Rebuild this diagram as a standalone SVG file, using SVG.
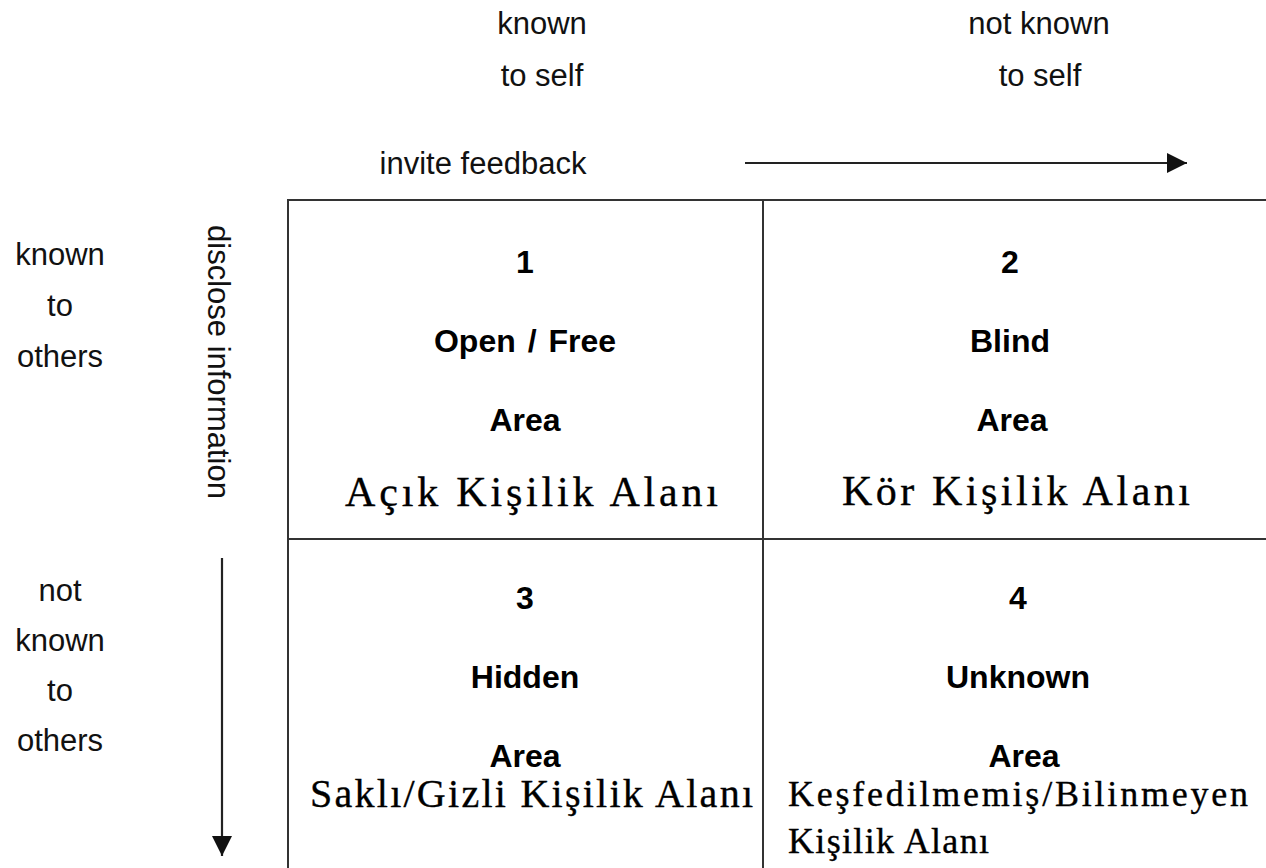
<svg xmlns="http://www.w3.org/2000/svg" width="1266" height="868" viewBox="0 0 1266 868">
<defs>
<style>
.sans{font-family:"Liberation Sans",Arial,sans-serif;font-size:31px;fill:#111;}
.b{font-family:"Liberation Sans",Arial,sans-serif;font-size:32px;font-weight:bold;fill:#000;text-anchor:middle;}
.serif{font-family:"Liberation Serif","Times New Roman",serif;font-size:42px;fill:#000;stroke:#000;stroke-width:0.35;}
.serif3{font-family:"Liberation Serif","Times New Roman",serif;font-size:40px;fill:#000;stroke:#000;stroke-width:0.35;}
.serif2{font-family:"Liberation Serif","Times New Roman",serif;font-size:36px;fill:#000;stroke:#000;stroke-width:0.35;}
.mid{text-anchor:middle;}
.cell{fill:#fff;stroke:#333;stroke-width:2;}
.conn{stroke:#222;stroke-width:2.2;fill:none;}
</style>
<marker id="ah" viewBox="0 0 20 20" markerWidth="20" markerHeight="20" markerUnits="userSpaceOnUse" refX="20" refY="10" orient="auto">
<path d="M0,0 L20,10 L0,20 z" fill="#111"/>
</marker>
</defs>
<rect width="1266" height="868" fill="#fff"/>

<g id="top-labels">
<text class="sans mid" x="542" y="34">known</text>
<text class="sans mid" x="542" y="86">to self</text>
<text class="sans mid" x="1039" y="34">not known</text>
<text class="sans mid" x="1040" y="86">to self</text>
<text class="sans mid" x="483" y="174">invite feedback</text>
</g>

<g id="left-labels">
<text class="sans mid" x="60" y="265">known</text>
<text class="sans mid" x="60" y="316">to</text>
<text class="sans mid" x="60" y="367">others</text>
<text class="sans mid" x="60" y="601">not</text>
<text class="sans mid" x="60" y="651">known</text>
<text class="sans mid" x="60" y="701">to</text>
<text class="sans mid" x="60" y="751">others</text>
<text class="sans mid" transform="translate(208,362) rotate(90)">disclose information</text>
</g>

<g id="cell1">
<rect class="cell" x="288" y="200" width="475" height="339"/>
<text class="b" x="525" y="273">1</text>
<text class="b" x="525" y="352" word-spacing="3">Open / Free</text>
<text class="b" x="525" y="431">Area</text>
<text class="serif" x="345" y="506" textLength="373" lengthAdjust="spacing">Açık Kişilik Alanı</text>
</g>

<g id="cell2">
<rect class="cell" x="763" y="200" width="520" height="339"/>
<text class="b" x="1010" y="273">2</text>
<text class="b" x="1010" y="352">Blind</text>
<text class="b" x="1012" y="431">Area</text>
<text class="serif" x="842" y="505" textLength="348" lengthAdjust="spacing">Kör Kişilik Alanı</text>
</g>

<g id="cell3">
<rect class="cell" x="288" y="539" width="475" height="345"/>
<text class="b" x="525" y="609">3</text>
<text class="b" x="525" y="688">Hidden</text>
<text class="b" x="525" y="767">Area</text>
<text class="serif3" x="310" y="807" textLength="443" lengthAdjust="spacing">Saklı/Gizli Kişilik Alanı</text>
</g>

<g id="cell4">
<rect class="cell" x="763" y="539" width="520" height="345"/>
<text class="b" x="1018" y="609">4</text>
<text class="b" x="1018" y="688">Unknown</text>
<text class="b" x="1024" y="767">Area</text>
<text class="serif2" x="788" y="806" textLength="460" lengthAdjust="spacing">Keşfedilmemiş/Bilinmeyen</text>
<text class="serif2" x="788" y="853" textLength="201" lengthAdjust="spacing">Kişilik Alanı</text>
</g>

<g id="connectors">
<line class="conn" x1="745" y1="163" x2="1187" y2="163" marker-end="url(#ah)"/>
<line class="conn" x1="222" y1="558" x2="222" y2="856" marker-end="url(#ah)"/>
</g>
</svg>
